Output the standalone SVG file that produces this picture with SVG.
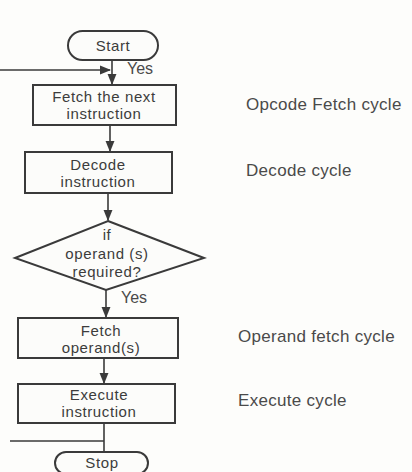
<svg xmlns="http://www.w3.org/2000/svg" width="412" height="472" viewBox="0 0 412 472">
  <defs>
    <marker id="arrow" viewBox="0 0 10 10" refX="9" refY="5" markerWidth="7" markerHeight="7" orient="auto">
      <path d="M0,1 L10,5 L0,9 z" fill="#3a3a3a"/>
    </marker>
  </defs>
  <style>
    .shape { fill: #fcfcfa; stroke: #3a3a3a; stroke-width: 2; }
    .line { fill: none; stroke: #3a3a3a; stroke-width: 1.6; }
    .t { font-family: "Liberation Sans", Arial, sans-serif; font-size: 15px; letter-spacing: 0.6px; fill: #3c3c3c; text-anchor: middle; }
    .note { font-family: "Liberation Sans", Arial, sans-serif; font-size: 17px; letter-spacing: 0.3px; fill: #4a4a4a; }
    .yes { font-family: "Liberation Sans", Arial, sans-serif; font-size: 16px; fill: #4a4a4a; }
  </style>
  <rect width="412" height="472" fill="#fdfdfb"/>

  <g id="connectors">
    <line class="line" x1="112" y1="60" x2="112" y2="84" marker-end="url(#arrow)"/>
    <line class="line" x1="0" y1="70" x2="110" y2="70" marker-end="url(#arrow)"/>
    <line class="line" x1="110" y1="125" x2="110" y2="151" marker-end="url(#arrow)"/>
    <line class="line" x1="108" y1="193" x2="108" y2="220" marker-end="url(#arrow)"/>
    <line class="line" x1="106" y1="290" x2="106" y2="317" marker-end="url(#arrow)"/>
    <line class="line" x1="104" y1="358" x2="104" y2="383" marker-end="url(#arrow)"/>
    <line class="line" x1="104" y1="423" x2="104" y2="452"/>
    <line class="line" x1="10" y1="441" x2="104" y2="441"/>
    <text class="yes" x="127" y="74">Yes</text>
    <text class="yes" x="121" y="303">Yes</text>
  </g>

  <g id="start">
    <rect class="shape" x="68" y="31" width="90" height="29" rx="14.5"/>
    <text class="t" x="113" y="51">Start</text>
  </g>

  <g id="fetch-instruction">
    <rect class="shape" x="33" y="85" width="143" height="40"/>
    <text class="t" x="104" y="102">Fetch the next</text>
    <text class="t" x="104" y="119">instruction</text>
  </g>

  <g id="decode">
    <rect class="shape" x="25" y="152" width="147" height="41"/>
    <text class="t" x="98" y="170">Decode</text>
    <text class="t" x="98" y="187">instruction</text>
  </g>

  <g id="operand-check">
    <polygon class="shape" points="108,221 204,258 106,290 15,258"/>
    <text class="t" x="107" y="240">if</text>
    <text class="t" x="107" y="259">operand (s)</text>
    <text class="t" x="107" y="277">required?</text>
  </g>

  <g id="fetch-operand">
    <rect class="shape" x="18" y="318" width="160" height="40"/>
    <text class="t" x="101" y="336">Fetch</text>
    <text class="t" x="101" y="353">operand(s)</text>
  </g>

  <g id="execute">
    <rect class="shape" x="18" y="384" width="157" height="39"/>
    <text class="t" x="99" y="400">Execute</text>
    <text class="t" x="99" y="417">instruction</text>
  </g>

  <g id="stop">
    <rect class="shape" x="55" y="452" width="93" height="22" rx="11"/>
    <text class="t" x="102" y="468">Stop</text>
  </g>

  <g id="cycle-labels">
    <text class="note" x="246" y="110">Opcode Fetch cycle</text>
    <text class="note" x="246" y="176">Decode cycle</text>
    <text class="note" x="238" y="342">Operand fetch cycle</text>
    <text class="note" x="238" y="406">Execute cycle</text>
  </g>
</svg>
